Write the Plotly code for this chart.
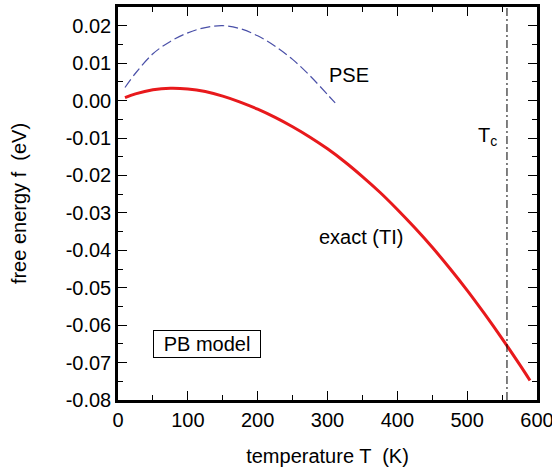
import plotly.graph_objects as go

# Data
T_exact = [10, 25, 50, 75, 100, 125, 150, 175, 200, 225, 250, 275, 300, 325, 350,
           375, 400, 425, 450, 475, 500, 525, 550, 575, 590]
f_exact = [0.0008, 0.0018, 0.0029, 0.0033, 0.0031, 0.0024, 0.0012, -0.0004, -0.0023,
           -0.0045, -0.0070, -0.0098, -0.0129, -0.0164, -0.0203, -0.0245, -0.0291,
           -0.0340, -0.0392, -0.0448, -0.0507, -0.0570, -0.0636, -0.0705, -0.0748]

T_pse = [10, 25, 50, 75, 100, 125, 150, 175, 200, 225, 250, 275, 300, 311]
f_pse = [0.0035, 0.0073, 0.0125, 0.0158, 0.0181, 0.0195, 0.0200, 0.0192, 0.0173,
         0.0145, 0.0110, 0.0066, 0.0016, -0.0006]

T_c = 557
x_ticks = [0, 100, 200, 300, 400, 500, 600]
y_ticks = [-0.08, -0.07, -0.06, -0.05, -0.04, -0.03, -0.02, -0.01, 0.00, 0.01, 0.02]
y_ticklabels = ["-0.08", "-0.07", "-0.06", "-0.05", "-0.04", "-0.03", "-0.02",
                "-0.01", "0.00", "0.01", "0.02"]

FONT = "Liberation Sans, Arial, Helvetica, sans-serif"
FS = 20

fig = go.Figure()
fig.add_trace(go.Scatter(x=T_pse, y=f_pse, mode="lines", line_shape="spline",
                         line=dict(color="#4a50a8", width=1.2, dash="10px,4px"),
                         showlegend=False))
fig.add_trace(go.Scatter(x=T_exact, y=f_exact, mode="lines", line_shape="spline",
                         line=dict(color="#e8191c", width=3), showlegend=False))
fig.add_trace(go.Scatter(x=[T_c, T_c], y=[-0.08, 0.025], mode="lines",
                         line=dict(color="black", width=1, dash="8px,3px,2px,3px"),
                         showlegend=False))

fig.add_annotation(x=299, y=0.0067, text="PSE", showarrow=False, xanchor="left",
                   font=dict(size=FS, color="black", family=FONT))
fig.add_annotation(x=512, y=-0.0095, text="T<sub>c</sub>", showarrow=False, xanchor="left",
                   font=dict(size=FS, color="black", family=FONT))
fig.add_annotation(x=285, y=-0.0365, text="exact (TI)", showarrow=False, xanchor="left",
                   font=dict(size=FS, color="black", family=FONT))
fig.add_annotation(x=127.5, y=-0.0650, text="PB model", showarrow=False,
                   width=100, height=20, align="center", valign="middle",
                   font=dict(size=FS, color="black", family=FONT),
                   bordercolor="black", borderwidth=1, borderpad=3, bgcolor="white")

axis_common = dict(showline=True, linecolor="black", linewidth=2.5, mirror="ticks",
                   ticks="inside", ticklen=9, tickwidth=1.2, tickcolor="black",
                   showgrid=False, zeroline=False, ticklabeloverflow="allow",
                   tickfont=dict(size=FS, color="black", family=FONT))

fig.update_xaxes(range=[0, 600], tickvals=x_ticks,
                 minor=dict(ticks="inside", ticklen=5, tickwidth=1, dtick=50, tickcolor="black", showgrid=False),
                 title=dict(text="temperature T  (K)", font=dict(size=FS, color="black", family=FONT), standoff=20),
                 **axis_common)
fig.update_yaxes(range=[-0.08, 0.025], tickvals=y_ticks, ticktext=y_ticklabels,
                 minor=dict(ticks="inside", ticklen=5, tickwidth=1, dtick=0.005, tickcolor="black", showgrid=False),
                 title=dict(text="free energy f  (eV)", font=dict(size=FS, color="black", family=FONT), standoff=34),
                 **axis_common)

fig.update_layout(width=552, height=472, plot_bgcolor="white", paper_bgcolor="white",
                  margin=dict(l=118, r=15, t=7, b=72, autoexpand=False))

fig.write_html("out.html", config={"displayModeBar": False},
               post_script="document.body.style.margin='0';")
